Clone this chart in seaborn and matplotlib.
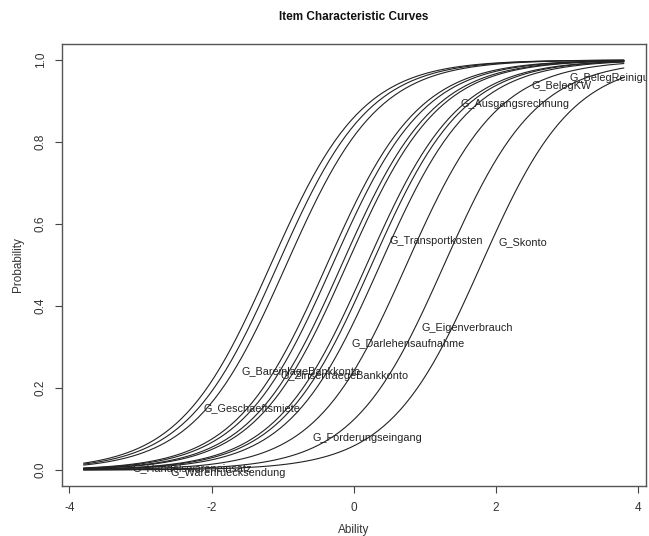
import numpy as np
import pandas as pd
import matplotlib
matplotlib.use("Agg")
import matplotlib.pyplot as plt
import seaborn as sns

# Item labels (in plotting order) and their estimated difficulty parameters
items = ["G_Handelswareneinsatz", "G_Warenruecksendung", "G_Geschaeftsmiete",
         "G_BareinlageBankkonto", "G_ZinsertraegeBankkonto", "G_Forderungseingang",
         "G_Darlehensaufnahme", "G_Transportkosten", "G_Eigenverbrauch",
         "G_Ausgangsrechnung", "G_Skonto", "G_BelegKW", "G_BelegReinigung"]
difficulty = [-1.07, -0.30, -1.17, -0.95, -0.38, 0.74, 0.37, 0.25, 1.27,
              -0.17, 1.79, 0.18, -0.10]
discrimination = 1.55
x_ticks = [-4, -2, 0, 2, 4]
y_ticks = [0.0, 0.2, 0.4, 0.6, 0.8, 1.0]

z = np.linspace(-3.8, 3.8, 100)
rows = []
for name, b in zip(items, difficulty):
    p = 1.0 / (1.0 + np.exp(-discrimination * (z - b)))
    rows.append(pd.DataFrame({"Ability": z, "Probability": p, "item": name}))
df = pd.concat(rows, ignore_index=True)

sns.set_style("ticks")
plt.rcParams["font.family"] = ["Liberation Sans", "DejaVu Sans"]

fig = plt.figure(figsize=(6.49, 5.36), dpi=100)
ax = fig.add_axes([62 / 649, 1 - 486.4 / 536, (645.5 - 62) / 649, (486.4 - 43.6) / 536])

sns.lineplot(data=df, x="Ability", y="Probability", units="item", estimator=None,
             color="#222222", linewidth=0.8, ax=ax, legend=False)

# labels placed along the curves like ltm's plot
pos = np.round(np.linspace(10, 90, len(items))).astype(int) - 1
for i, (name, b) in enumerate(zip(items, difficulty)):
    zx = z[pos[i]]
    py = 1.0 / (1.0 + np.exp(-discrimination * (zx - b)))
    ax.annotate(name, xy=(zx, py), xytext=(0, -15), textcoords="offset pixels",
                ha="left", va="center", fontsize=7.8, color="#222222",
                annotation_clip=False, clip_on=True)

ax.set_xlim(-4.104, 4.104)
ax.set_ylim(-0.04, 1.04)
ax.set_xticks(x_ticks)
ax.set_xticklabels([str(t) for t in x_ticks])
ax.set_yticks(y_ticks)
ax.set_yticklabels([f"{t:.1f}" for t in y_ticks])
ax.tick_params(axis="both", direction="out", length=5, width=0.8,
               colors="#444444", labelsize=8.5, labelcolor="#333333", pad=6)
for lab in ax.get_yticklabels():
    lab.set_rotation(90)
    lab.set_va("center")
for s in ax.spines.values():
    s.set_visible(True)
    s.set_color("#555555")
    s.set_linewidth(1.0)

ax.set_xlabel("")
ax.set_ylabel("")
fig.text(353.75 / 649, 1 - 530 / 536, "Ability", ha="center", va="center",
         fontsize=8.5, color="#333333")
fig.text(18 / 649, 1 - 265 / 536, "Probability", ha="center", va="center",
         rotation=90, fontsize=8.5, color="#333333")
fig.text(353.75 / 649, 1 - 17 / 536, "Item Characteristic Curves", ha="center",
         va="center", fontsize=8.5, fontweight="bold", color="#111111")

fig.savefig("out.png", dpi=100)
